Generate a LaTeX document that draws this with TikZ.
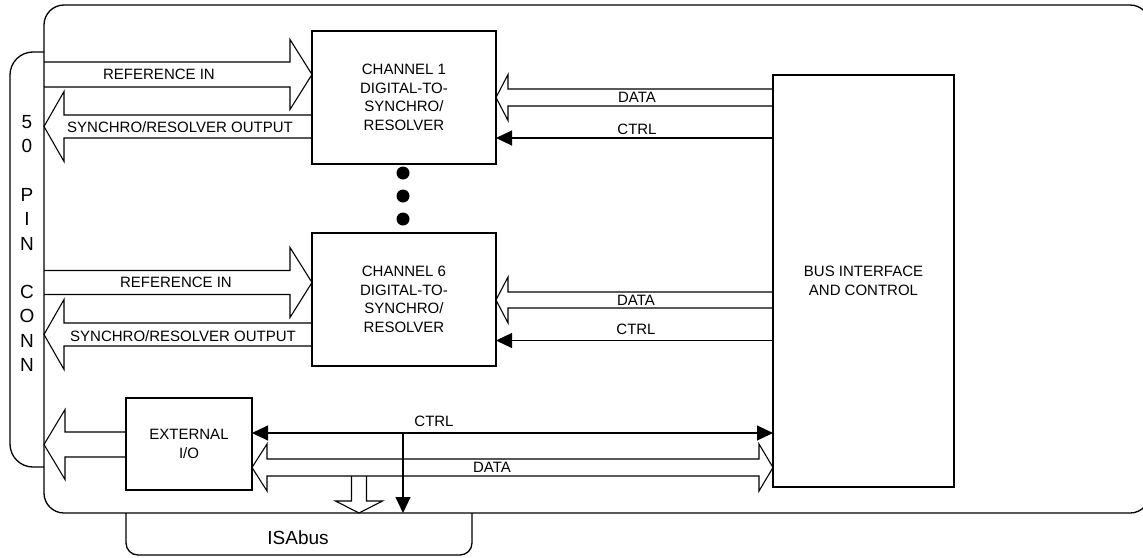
\documentclass[tikz,border=0pt]{standalone}
\usepackage{fontspec}
\setmainfont{Liberation Sans}
\usetikzlibrary{arrows.meta,calc}
\tikzset{
  blk/.style={draw, line width=1.6pt, align=center, inner sep=0pt, outer sep=0pt,
    font=\fontsize{15}{18.5}\selectfont},
  lbl/.style={inner sep=0pt, font=\fontsize{15}{18}\selectfont},
  fat/.style={draw, line width=1.1pt, line join=miter, miter limit=20},
  sig/.style={line width=1.1pt, -{Triangle[length=16pt,width=15pt]}},
  sigtwo/.style={line width=1.1pt, {Triangle[length=16pt,width=15pt]}-{Triangle[length=16pt,width=15pt]}},
  outline/.style={line width=1.3pt},
  bigdot/.style={circle, fill, inner sep=0pt, minimum size=13pt},
  conn/.style={inner sep=0pt, align=center, font=\fontsize{19}{24.3}\selectfont},
}
% horizontal hollow arrow: #1 tail, #2 tip, #3 body half width, #4 head half width, #5 head length
\newcommand\hfat[5]{%
  \draw[fat] let \p1=(#1), \p2=(#2), \n1={\x2-(#5)*sign(\x2-\x1)} in
    (\x1,\y2+#3) -- (\n1,\y2+#3) -- (\n1,\y2+#4) -- (\p2) -- (\n1,\y2-#4) -- (\n1,\y2-#3) -- (\x1,\y2-#3);}
\begin{document}
\begin{tikzpicture}[x=1pt,y=-1pt]
\useasboundingbox (0,0) rectangle (1143,557);

% outlines
\draw[outline, rounded corners=20pt] (44,5) rectangle (1150,513);
\draw[outline, rounded corners=23pt] (44,52) -- (10,52) -- (10,467) -- (44,467);
\draw[outline, rounded corners=12pt] (126,513) -- (126,555) -- (472,555) -- (472,513);

% blocks
\node[blk, minimum width=184pt, minimum height=133pt] (ch1) at (404,97.5)
  {CHANNEL 1\\DIGITAL-TO-\\SYNCHRO/\\RESOLVER};
\node[blk, minimum width=184pt, minimum height=133pt] (ch6) at (404,299.5)
  {CHANNEL 6\\DIGITAL-TO-\\SYNCHRO/\\RESOLVER};
\node[blk, minimum width=181pt, minimum height=412pt] (bus) at (863.5,281)
  {BUS INTERFACE\\AND CONTROL};
\node[blk, minimum width=126pt, minimum height=92pt] (ext) at (189,444)
  {EXTERNAL\\I/O};

% dots
\node[bigdot] (dA) at (403,173) {};
\node[bigdot] (dB) at (403,196) {};
\node[bigdot] (dC) at (403,219) {};

% port coordinates
\coordinate (r1) at (44,74.5);
\coordinate (s1) at (44,126.5);
\coordinate (r6) at (44,282.5);
\coordinate (s6) at (44,334.5);
\coordinate (e) at (44,444.5);
\coordinate (d1) at (0,97.5);
\coordinate (c1) at (0,138);
\coordinate (d6) at (0,300);
\coordinate (c6) at (0,340.5);
\coordinate (bc) at (0,433);
\coordinate (bd) at (0,467.5);
\coordinate (tap) at (403,433);
\coordinate (isaC) at (403,513);
\coordinate (isaD) at (359,513);

% hollow arrows
\hfat{r1}{ch1.west |- r1}{12.5pt}{35pt}{22pt}
\hfat{ch1.west |- s1}{s1}{11.5pt}{35pt}{20pt}
\hfat{r6}{ch6.west |- r6}{12pt}{35pt}{22pt}
\hfat{ch6.west |- s6}{s6}{11.5pt}{35pt}{20pt}
\hfat{ext.west |- e}{e}{12.5pt}{35pt}{21pt}
\hfat{bus.west |- d1}{ch1.east |- d1}{8.5pt}{23pt}{12pt}
\hfat{bus.west |- d6}{ch6.east |- d6}{8pt}{23pt}{12pt}

% bottom double hollow DATA arrow
\draw[fat] let \p1=(ext.east |- bd), \p2=(bus.west |- bd) in
  (\x1+15pt,\y1+8.5pt) -- (\x2-14pt,\y1+8.5pt) -- (\x2-14pt,\y1+23.5pt) -- (\p2)
  -- (\x2-14pt,\y1-23.5pt) -- (\x2-14pt,\y1-8.5pt) -- (\x1+15pt,\y1-8.5pt)
  -- (\x1+15pt,\y1-23.5pt) -- (\p1) -- (\x1+15pt,\y1+23.5pt) -- cycle;

% hollow arrow down to ISA bus
\draw[fat] let \p1=(isaD) in
  (\x1-7.5pt,\y1+37pt) -- (\x1-7.5pt,\y1+12pt) -- (\x1-23.5pt,\y1+12pt) -- (\p1)
  -- (\x1+23.5pt,\y1+12pt) -- (\x1+7.5pt,\y1+12pt) -- (\x1+7.5pt,\y1+37pt);

% control lines
\draw[sig] (bus.west |- c1) -- (ch1.east |- c1);
\draw[sig] (bus.west |- c6) -- (ch6.east |- c6);
\draw[sigtwo] (ext.east |- bc) -- (bus.west |- bc);
\draw[sig] (tap) -- (isaC);

% labels
\node[lbl] (lr1) at (159,74.5) {REFERENCE IN};
\node[lbl] (ls1) at (180,127) {SYNCHRO/RESOLVER OUTPUT};
\node[lbl] (lr6) at (176,282) {REFERENCE IN};
\node[lbl] (ls6) at (183,336) {SYNCHRO/RESOLVER OUTPUT};
\node[lbl] (ld1) at (637,97.5) {DATA};
\node[lbl] (lc1) at (637,129) {CTRL};
\node[lbl] (ld6) at (636,300) {DATA};
\node[lbl] (lc6) at (636,329) {CTRL};
\node[lbl] (lbc) at (434,421) {CTRL};
\node[lbl] (lbd) at (492,467) {DATA};
\node[inner sep=0pt, font=\fontsize{19}{19}\selectfont] (isa) at (298,538) {ISAbus};
\node[conn] (connlbl) at (27,243.5) {5\\0\\[24.3pt]P\\I\\N\\[24.3pt]C\\O\\N\\N};
\end{tikzpicture}
\end{document}
